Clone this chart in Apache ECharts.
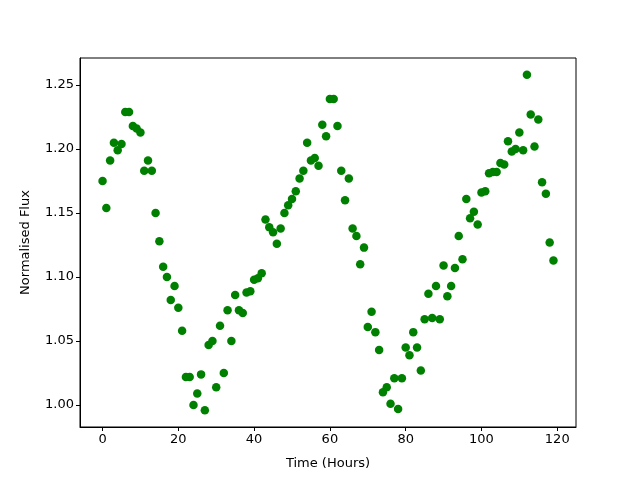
<!DOCTYPE html>
<html>
<head>
<meta charset="utf-8">
<script src="https://cdn.jsdelivr.net/npm/echarts@6/dist/echarts.min.js"></script>
<style>
  html, body { margin: 0; padding: 0; background: #fff; }
  #chart { width: 640px; height: 480px; }
</style>
</head>
<body>
<div id="chart"></div>
<script>
const flux = [
  1.175, 1.154, 1.191, 1.205, 1.199, 1.204, 1.229, 1.229, 1.218, 1.216,
  1.213, 1.183, 1.191, 1.183, 1.150, 1.128, 1.108, 1.100, 1.082, 1.093,
  1.076, 1.058, 1.022, 1.022, 1.000, 1.009, 1.024, 0.996, 1.047, 1.050,
  1.014, 1.062, 1.025, 1.074, 1.050, 1.086, 1.074, 1.072, 1.088, 1.089,
  1.098, 1.099, 1.103, 1.145, 1.139, 1.135, 1.126, 1.138, 1.150, 1.156,
  1.161, 1.167, 1.177, 1.183, 1.205, 1.191, 1.193, 1.187, 1.219, 1.210,
  1.239, 1.239, 1.218, 1.183, 1.160, 1.177, 1.138, 1.132, 1.110, 1.123,
  1.061, 1.073, 1.057, 1.043, 1.010, 1.014, 1.001, 1.021, 0.997, 1.021,
  1.045, 1.039, 1.057, 1.045, 1.027, 1.067, 1.087, 1.068, 1.093, 1.067,
  1.109, 1.085, 1.093, 1.107, 1.132, 1.114, 1.161, 1.146, 1.151, 1.141,
  1.166, 1.167, 1.181, 1.182, 1.182, 1.189, 1.188, 1.206, 1.198, 1.200,
  1.213, 1.199, 1.258, 1.227, 1.202, 1.223, 1.174, 1.165, 1.127, 1.113
]
const hours = flux.map((v, i) => i)
const xTicks = [0, 20, 40, 60, 80, 100, 120]
const yTicks = [1.00, 1.05, 1.10, 1.15, 1.20, 1.25]

const chart = echarts.init(document.getElementById('chart'))
const font = 'DejaVu Sans'

chart.setOption({
  animation: false,
  textStyle: { fontFamily: font },
  grid: {
    left: 80,
    right: 64,
    top: 58,
    bottom: 53,
    show: true,
    borderColor: '#000',
    borderWidth: 1
  },
  xAxis: {
    type: 'value',
    min: -5.95,
    max: 124.95,
    name: 'Time (Hours)',
    nameLocation: 'middle',
    nameGap: 30,
    nameTextStyle: { color: '#000', fontSize: 13, fontFamily: font },
    axisLine: { show: true, onZero: false, lineStyle: { color: '#000', width: 1 } },
    axisTick: { show: true, length: 4, lineStyle: { color: '#000' }, customValues: xTicks },
    axisLabel: { color: '#000', fontSize: 13, fontFamily: font, margin: 6, customValues: xTicks },
    splitLine: { show: false }
  },
  yAxis: {
    type: 'value',
    min: 0.9829,
    max: 1.2711,
    name: 'Normalised Flux',
    nameLocation: 'middle',
    nameGap: 48,
    nameTextStyle: { color: '#000', fontSize: 13, fontFamily: font },
    axisLine: { show: true, onZero: false, lineStyle: { color: '#000', width: 1 } },
    axisTick: { show: true, length: 4, lineStyle: { color: '#000' }, customValues: yTicks },
    axisLabel: {
      color: '#000', fontSize: 13, fontFamily: font, margin: 6,
      customValues: yTicks,
      formatter: v => v.toFixed(2)
    },
    splitLine: { show: false }
  },
  series: [{
    type: 'scatter',
    symbol: 'circle',
    symbolSize: 8.5,
    itemStyle: { color: '#008000', opacity: 1 },
    data: hours.map((h, i) => [h, flux[i]])
  }]
})
</script>
</body>
</html>
